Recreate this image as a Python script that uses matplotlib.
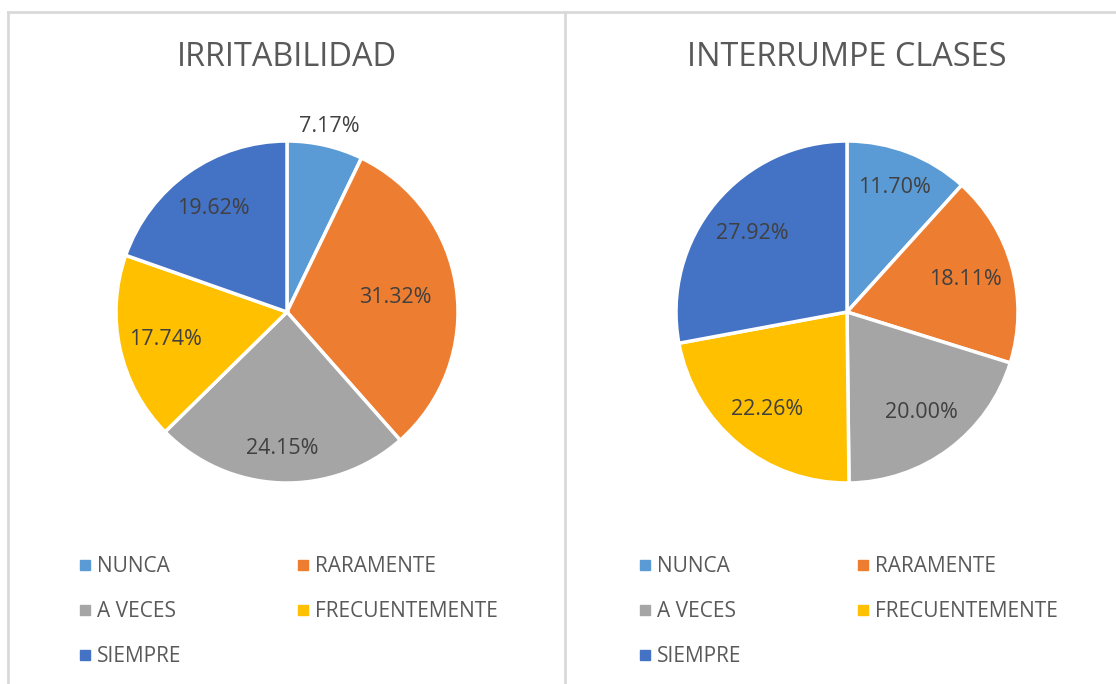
import matplotlib as mpl
mpl.use('Agg')
import matplotlib.pyplot as plt
from matplotlib.lines import Line2D
import numpy as np

plt.rcParams['font.family'] = ['Open Sans', 'DejaVu Sans']

#Data
categories = ['NUNCA', 'RARAMENTE', 'A VECES', 'FRECUENTEMENTE', 'SIEMPRE']
irritabilidad = [7.17, 31.32, 24.15, 17.74, 19.62]
interrumpe = [11.70, 18.11, 20.00, 22.26, 27.92]
titles = ['IRRITABILIDAD', 'INTERRUMPE CLASES']
colors = ['#5B9BD5', '#ED7D31', '#A5A5A5', '#FFC000', '#4472C4']

#Label distance from centre (fraction of radius), per slice
label_dist = [[1.11, 0.64, 0.80, 0.73, 0.74],
              [0.78, 0.72, 0.73, 0.74, 0.72]]

W, H = 1116, 684
fig = plt.figure(figsize=(W/100, H/100), dpi=100)

#Panel borders
border = '#D9D9D9'
fig.add_artist(Line2D([8/W, 1], [1-12/H, 1-12/H], color=border, lw=2, transform=fig.transFigure))
fig.add_artist(Line2D([8/W, 8/W], [0, 1-12/H], color=border, lw=2, transform=fig.transFigure))
fig.add_artist(Line2D([565/W, 565/W], [0, 1-12/H], color=border, lw=2, transform=fig.transFigure))

r = 171
centers = [287, 847]
cy = 312
for k, vals in enumerate([irritabilidad, interrumpe]):
    cx = centers[k]
    ax = fig.add_axes([(cx-r)/W, (H-cy-r)/H, 2*r/W, 2*r/H])
    wedges, texts = ax.pie(vals, colors=colors, startangle=90, counterclock=False,
                           wedgeprops=dict(edgecolor='white', linewidth=2.5))
    for w, v, d in zip(wedges, vals, label_dist[k]):
        ang = np.deg2rad((w.theta1 + w.theta2) / 2)
        ax.text(d*np.cos(ang), d*np.sin(ang), '%.2f%%' % v, ha='center', va='center',
                fontsize=15.5, color='#404040', clip_on=False)
    ax.set_xlim(-1, 1)
    ax.set_ylim(-1, 1)
    ax.axis('off')

    fig.text(cx/W, 1-58/H, titles[k], ha='center', va='center', fontsize=23.4,
             color='#595959')

    #Legend, row-wise order
    order = [0, 2, 4, 1, 3]
    handles = [Line2D([], [], marker='s', linestyle='none', markersize=7,
                      markerfacecolor=colors[i], markeredgecolor=colors[i]) for i in order]
    labels = [categories[i] for i in order]
    fig.legend(handles, labels, ncol=2, frameon=False, fontsize=15,
               labelcolor='#595959', loc='upper left', borderpad=0,
               bbox_to_anchor=((cx-220)/W, 1-546/H),
               handletextpad=0.25, handlelength=0.7, columnspacing=5.45, labelspacing=1.15)

plt.savefig('out.png', dpi=100)
plt.close()
